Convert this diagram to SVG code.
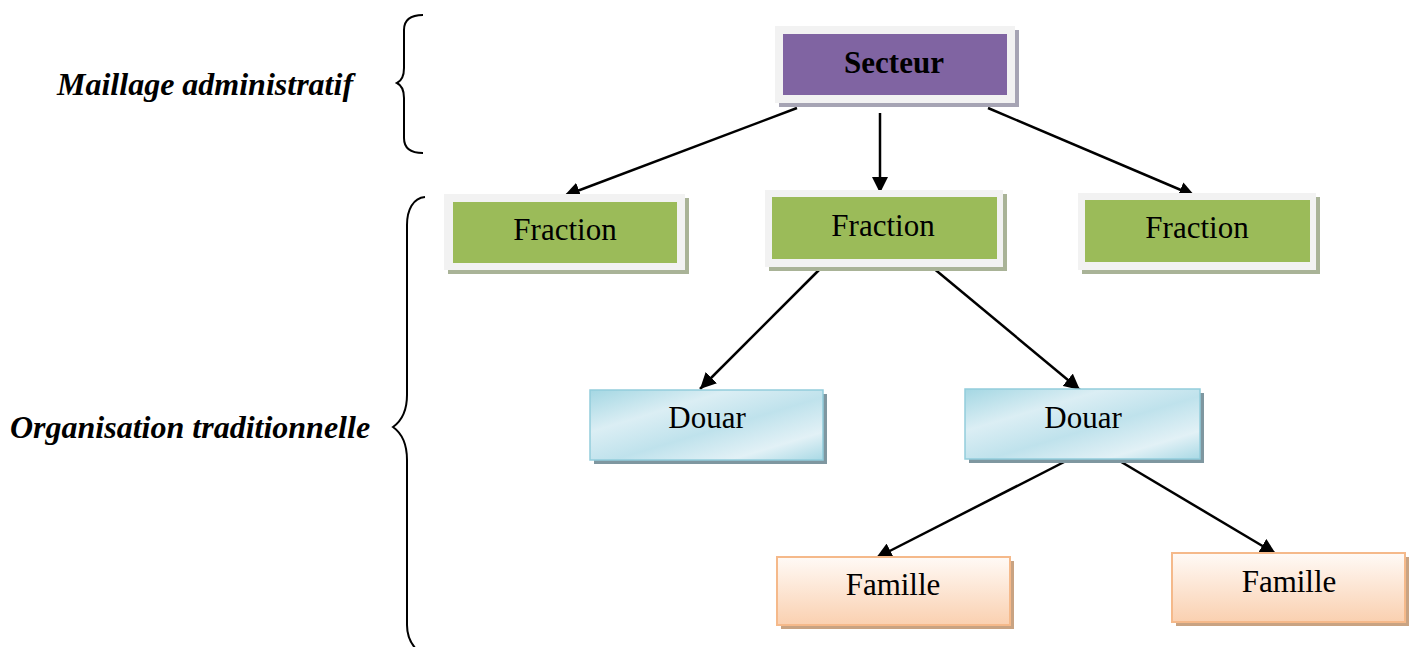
<svg xmlns="http://www.w3.org/2000/svg" width="1413" height="647" viewBox="0 0 1413 647">
  <style>
    .lbl { font-family: "Liberation Serif", "Times New Roman", serif; font-size: 31px; fill: #000; text-anchor: middle; }
    .side { font-family: "Liberation Serif", "Times New Roman", serif; font-size: 32px; font-weight: bold; font-style: italic; fill: #000; }
    .frame { fill: #f2f2f2; }
    .edge { stroke: #000; stroke-width: 2.5; fill: none; marker-end: url(#arrow); }
    .brace { stroke: #000; stroke-width: 2; fill: none; }
  </style>
  <defs>
    <marker id="arrow" viewBox="0 0 10 10" refX="10" refY="5" markerWidth="16" markerHeight="16" markerUnits="userSpaceOnUse" orient="auto">
      <path d="M0,0 L10,5 L0,10 Z" fill="#000"/>
    </marker>
    <linearGradient id="blue" x1="0" y1="0" x2="1" y2="1">
      <stop offset="0" stop-color="#a4d7e3"/>
      <stop offset="0.3" stop-color="#dbeef4"/>
      <stop offset="0.55" stop-color="#bfe2ec"/>
      <stop offset="0.8" stop-color="#e2f1f6"/>
      <stop offset="1" stop-color="#a9d9e5"/>
    </linearGradient>
    <linearGradient id="peach" x1="0" y1="0" x2="0" y2="1">
      <stop offset="0" stop-color="#fffaf6"/>
      <stop offset="1" stop-color="#fad0b0"/>
    </linearGradient>
  </defs>

  <!-- side labels -->
  <text class="side" x="57" y="95">Maillage administratif</text>
  <text class="side" x="10" y="438">Organisation traditionnelle</text>

  <!-- braces -->
  <path class="brace" d="M423,15 C410,15 404,20 404,30 L404,68 C404,77 401,81 397,83 C401,85 404,89 404,98 L404,138 C404,148 410,153 423,153"/>
  <path class="brace" d="M425,197 C413,198 407,210 407,225 L407,395 C407,412 400,422 393,427 C400,432 407,442 407,460 L407,625 C407,636 411,644 417,650"/>

  <!-- connectors -->
  <g id="connectors">
    <line class="edge" x1="797" y1="108" x2="564" y2="196"/>
    <line class="edge" x1="880" y1="113" x2="880" y2="193"/>
    <line class="edge" x1="988" y1="108" x2="1195" y2="196"/>
    <line class="edge" x1="822" y1="267" x2="700" y2="389"/>
    <line class="edge" x1="932" y1="267" x2="1080" y2="390"/>
    <line class="edge" x1="1068" y1="460" x2="876" y2="558"/>
    <line class="edge" x1="1118" y1="460" x2="1276" y2="554"/>
  </g>

  <!-- Secteur -->
  <g id="secteur">
    <rect x="779" y="30" width="240" height="77" fill="#a6a4b4"/>
    <rect class="frame" x="775" y="26" width="240" height="77"/>
    <rect x="783" y="34" width="224" height="61" fill="#8064a2"/>
    <text class="lbl" x="894" y="73" font-weight="bold" font-size="30">Secteur</text>
  </g>

  <!-- Fractions -->
  <g id="fraction1">
    <rect x="448" y="198" width="241" height="76" fill="#a9b397"/>
    <rect class="frame" x="444" y="194" width="241" height="76"/>
    <rect x="453" y="202" width="224" height="61" fill="#9bbb59"/>
    <text class="lbl" x="565" y="240">Fraction</text>
  </g>
  <g id="fraction2">
    <rect x="769" y="194" width="238" height="77" fill="#a9b397"/>
    <rect class="frame" x="765" y="190" width="238" height="77"/>
    <rect x="772" y="197" width="225" height="62" fill="#9bbb59"/>
    <text class="lbl" x="883" y="236">Fraction</text>
  </g>
  <g id="fraction3">
    <rect x="1082" y="197" width="238" height="77" fill="#a9b397"/>
    <rect class="frame" x="1078" y="193" width="238" height="77"/>
    <rect x="1085" y="200" width="225" height="62" fill="#9bbb59"/>
    <text class="lbl" x="1197" y="238">Fraction</text>
  </g>

  <!-- Douars -->
  <g id="douar1">
    <rect x="594" y="394" width="233" height="70" fill="#7f97a0"/>
    <rect x="590" y="390" width="233" height="70" fill="url(#blue)" stroke="#92cddb" stroke-width="1.5"/>
    <text class="lbl" x="707" y="428">Douar</text>
  </g>
  <g id="douar2">
    <rect x="969" y="393" width="235" height="70" fill="#7f97a0"/>
    <rect x="965" y="389" width="235" height="70" fill="url(#blue)" stroke="#92cddb" stroke-width="1.5"/>
    <text class="lbl" x="1083" y="428">Douar</text>
  </g>

  <!-- Familles -->
  <g id="famille1">
    <rect x="781" y="561" width="233" height="68" fill="#c9a382"/>
    <rect x="777" y="557" width="233" height="68" fill="url(#peach)" stroke="#f5b98a" stroke-width="2"/>
    <text class="lbl" x="893" y="595">Famille</text>
  </g>
  <g id="famille2">
    <rect x="1176" y="557" width="233" height="69" fill="#c9a382"/>
    <rect x="1172" y="553" width="233" height="69" fill="url(#peach)" stroke="#f5b98a" stroke-width="2"/>
    <text class="lbl" x="1289" y="592">Famille</text>
  </g>
</svg>
